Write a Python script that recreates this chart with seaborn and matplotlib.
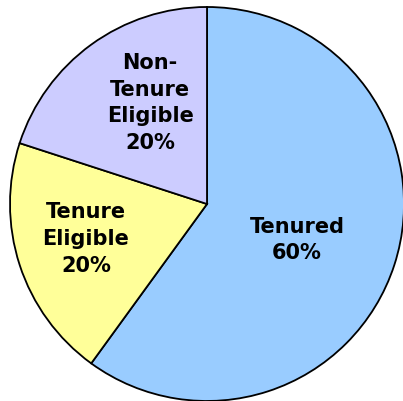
import matplotlib
matplotlib.use("Agg")
import matplotlib.pyplot as plt
import seaborn as sns

labels = ["Tenured\n60%", "Tenure\nEligible\n20%", "Non-\nTenure\nEligible\n20%"]
shares = [60, 20, 20]
colors = ["#99CCFF", "#FFFF99", "#CCCCFF"]
label_pos = [(0.457, -0.177), (-0.614, -0.172), (-0.289, 0.518)]

sns.set_style("white")
plt.rcParams['font.family'] = ['DejaVu Sans']

fig = plt.figure(figsize=(4.03, 4.02), dpi=100)
ax = fig.add_axes([0, 0, 1, 1])
ax.pie(shares, colors=colors, startangle=90, counterclock=False,
       wedgeprops=dict(edgecolor="black", linewidth=1.3))
for lab, (x, y) in zip(labels, label_pos):
    ax.text(x, y, lab, ha="center", va="center", fontsize=15,
            fontweight="bold", linespacing=1.42, color="black")
ax.set_xlim(-1.0508, 0.9949)
ax.set_ylim(-1.0, 1.0406)
ax.set_aspect("equal")
ax.axis("off")
fig.savefig("out.png", dpi=100)
